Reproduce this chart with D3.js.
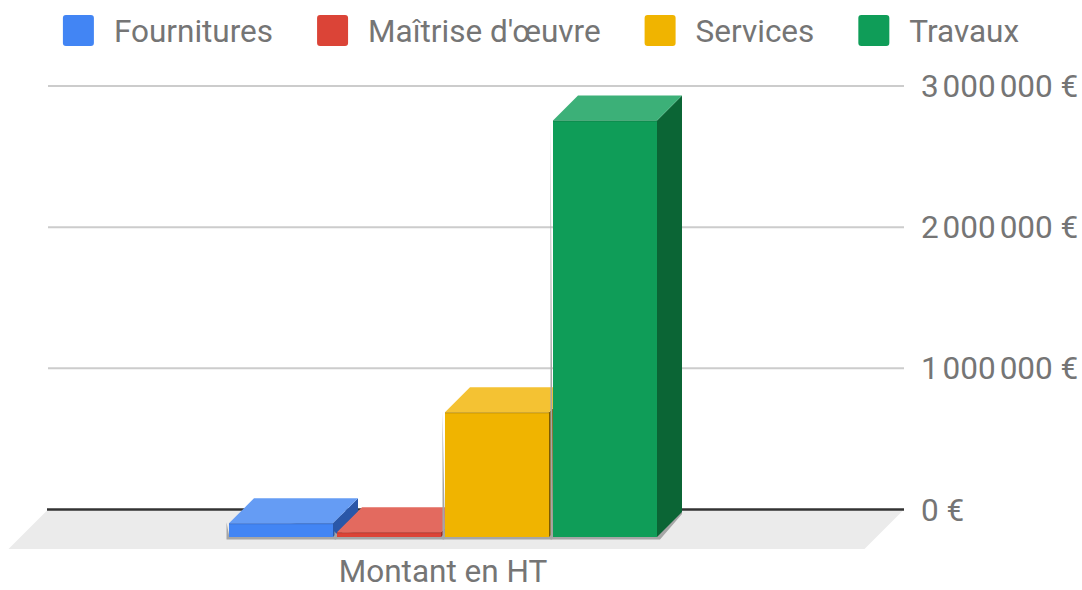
<!DOCTYPE html>
<html>
<head>
<meta charset="utf-8">
<script src="https://cdn.jsdelivr.net/npm/d3@7"></script>
<style>
  html, body { margin: 0; padding: 0; background: #fff; }
  svg { display: block; font-family: Roboto, "Noto Sans", sans-serif; }
</style>
</head>
<body>
<svg id="chart" width="1082" height="590"></svg>
<script>
// ---- data ----
const categories = ["Montant en HT"];
const series = ["Fournitures", "Maîtrise d'œuvre", "Services", "Travaux"];
const values = [97000, 33000, 883000, 2950000];
const colorsFront = ["#4285f4", "#db4437", "#f0b400", "#0f9d58"];
const colorsTop = ["#659cf4", "#e36a5f", "#f4c233", "#3cb078"];
const colorsSide = ["#2a57a8", "#a02c22", "#7d5c00", "#0b6535"];
const yTicks = [0, 1000000, 2000000, 3000000];

// ---- layout ----
const W = 1082, H = 590;
const svg = d3.select("#chart");
const textColor = "#757575";
const fontSize = 31.5;

const wallLeft = 48, wallRight = 904;
const floorDepth = 39.5;     // floor depth (px, 45° oblique)
const barFrontZ = 27.5;      // depth of bar front plane
const barDepth = 25;         // depth of each bar

const y = d3.scaleLinear().domain([0, 3000000]).range([509.5, 86]);

const x0 = d3.scaleBand().domain(categories).range([9, 877]);
const x1 = d3.scaleBand().domain(series).range([0, x0.bandwidth()])
  .paddingInner(0.037).paddingOuter(2.037);

const fmtLocale = d3.formatLocale({decimal: ",", thousands: "\u202f", grouping: [3], currency: ["", "\u00a0€"]});
const fmt = fmtLocale.format("$,.0f");

// ---- gridlines (back wall) ----
const gGrid = svg.append("g");
gGrid.selectAll("line.grid").data(yTicks.filter(d => d !== 0)).join("line")
  .attr("x1", wallLeft).attr("x2", wallRight)
  .attr("y1", d => y(d)).attr("y2", d => y(d))
  .attr("stroke", "#cccccc").attr("stroke-width", 2);

// ---- floor ----
const y0 = y(0);
svg.append("path")
  .attr("d", `M${wallLeft},${y0} L${wallRight},${y0} L${wallRight - floorDepth},${y0 + floorDepth} L${wallLeft - floorDepth},${y0 + floorDepth} Z`)
  .attr("fill", "#ebebeb");
svg.append("line")
  .attr("x1", wallLeft - 1).attr("x2", wallRight)
  .attr("y1", y0).attr("y2", y0)
  .attr("stroke", "#333333").attr("stroke-width", 2.5);

// ---- y axis labels (right) ----
svg.append("g").selectAll("text").data(yTicks).join("text")
  .attr("x", 921).attr("y", d => y(d))
  .attr("dy", "0.35em")
  .attr("fill", textColor).attr("font-size", fontSize)
  .text(d => fmt(d));

// ---- bars ----
const gBars = svg.append("g");
const bars = series.map((s, i) => ({s, i, v: values[i]}));
bars.forEach(b => {
  const fx = x0(categories[0]) + x1(b.s);
  const w = x1.bandwidth();
  const yTop = y(b.v) + barFrontZ;
  const yBot = y(0) + barFrontZ;
  const d = barDepth;
  const g = gBars.append("g");
  // shadow / outline
  g.append("path")
    .attr("d", `M${fx - 2.5},${yTop - 1} L${fx - 2.5},${yBot + 2.5} L${fx + w + 3},${yBot + 2.5} L${fx + w + d},${yBot - d + 2} L${fx + w + d},${yBot - d} L${fx},${yBot - 2} Z`)
    .attr("fill", "#a6a6a6");
  // side face
  g.append("path")
    .attr("d", `M${fx + w},${yTop} L${fx + w + d},${yTop - d} L${fx + w + d},${yBot - d} L${fx + w},${yBot} Z`)
    .attr("fill", colorsSide[b.i]);
  // top face
  g.append("path")
    .attr("d", `M${fx},${yTop} L${fx + w},${yTop} L${fx + w + d},${yTop - d} L${fx + d},${yTop - d} Z`)
    .attr("fill", colorsTop[b.i]);
  // front face
  g.append("rect")
    .attr("x", fx).attr("y", yTop).attr("width", w).attr("height", yBot - yTop)
    .attr("fill", colorsFront[b.i]);
  // darker edge between top and front
  g.append("line")
    .attr("x1", fx).attr("x2", fx + w).attr("y1", yTop + 0.5).attr("y2", yTop + 0.5)
    .attr("stroke", colorsSide[b.i]).attr("stroke-opacity", 0.45).attr("stroke-width", 1);
});

// ---- category label ----
svg.append("text")
  .attr("x", x0(categories[0]) + x0.bandwidth() / 2)
  .attr("y", 582)
  .attr("text-anchor", "middle")
  .attr("fill", textColor).attr("font-size", fontSize)
  .text(categories[0]);

// ---- legend ----
const gLeg = svg.append("g");
const sq = 31, gapSqText = 20, gapItems = 44;
const items = gLeg.selectAll("g").data(series).join("g");
items.append("rect")
  .attr("width", sq).attr("height", sq).attr("rx", 3).attr("y", 15)
  .attr("fill", (d, i) => colorsFront[i]);
items.append("text")
  .attr("x", sq + gapSqText).attr("y", 30.5).attr("dy", "0.35em")
  .attr("fill", textColor).attr("font-size", fontSize)
  .text(d => d);
let total = 0;
const widths = [];
items.each(function() {
  const tw = d3.select(this).select("text").node().getComputedTextLength();
  widths.push(sq + gapSqText + tw);
});
total = d3.sum(widths) + gapItems * (widths.length - 1);
let cx = (W - total) / 2;
items.each(function(d, i) {
  d3.select(this).attr("transform", `translate(${cx},0)`);
  cx += widths[i] + gapItems;
});
</script>
</body>
</html>
